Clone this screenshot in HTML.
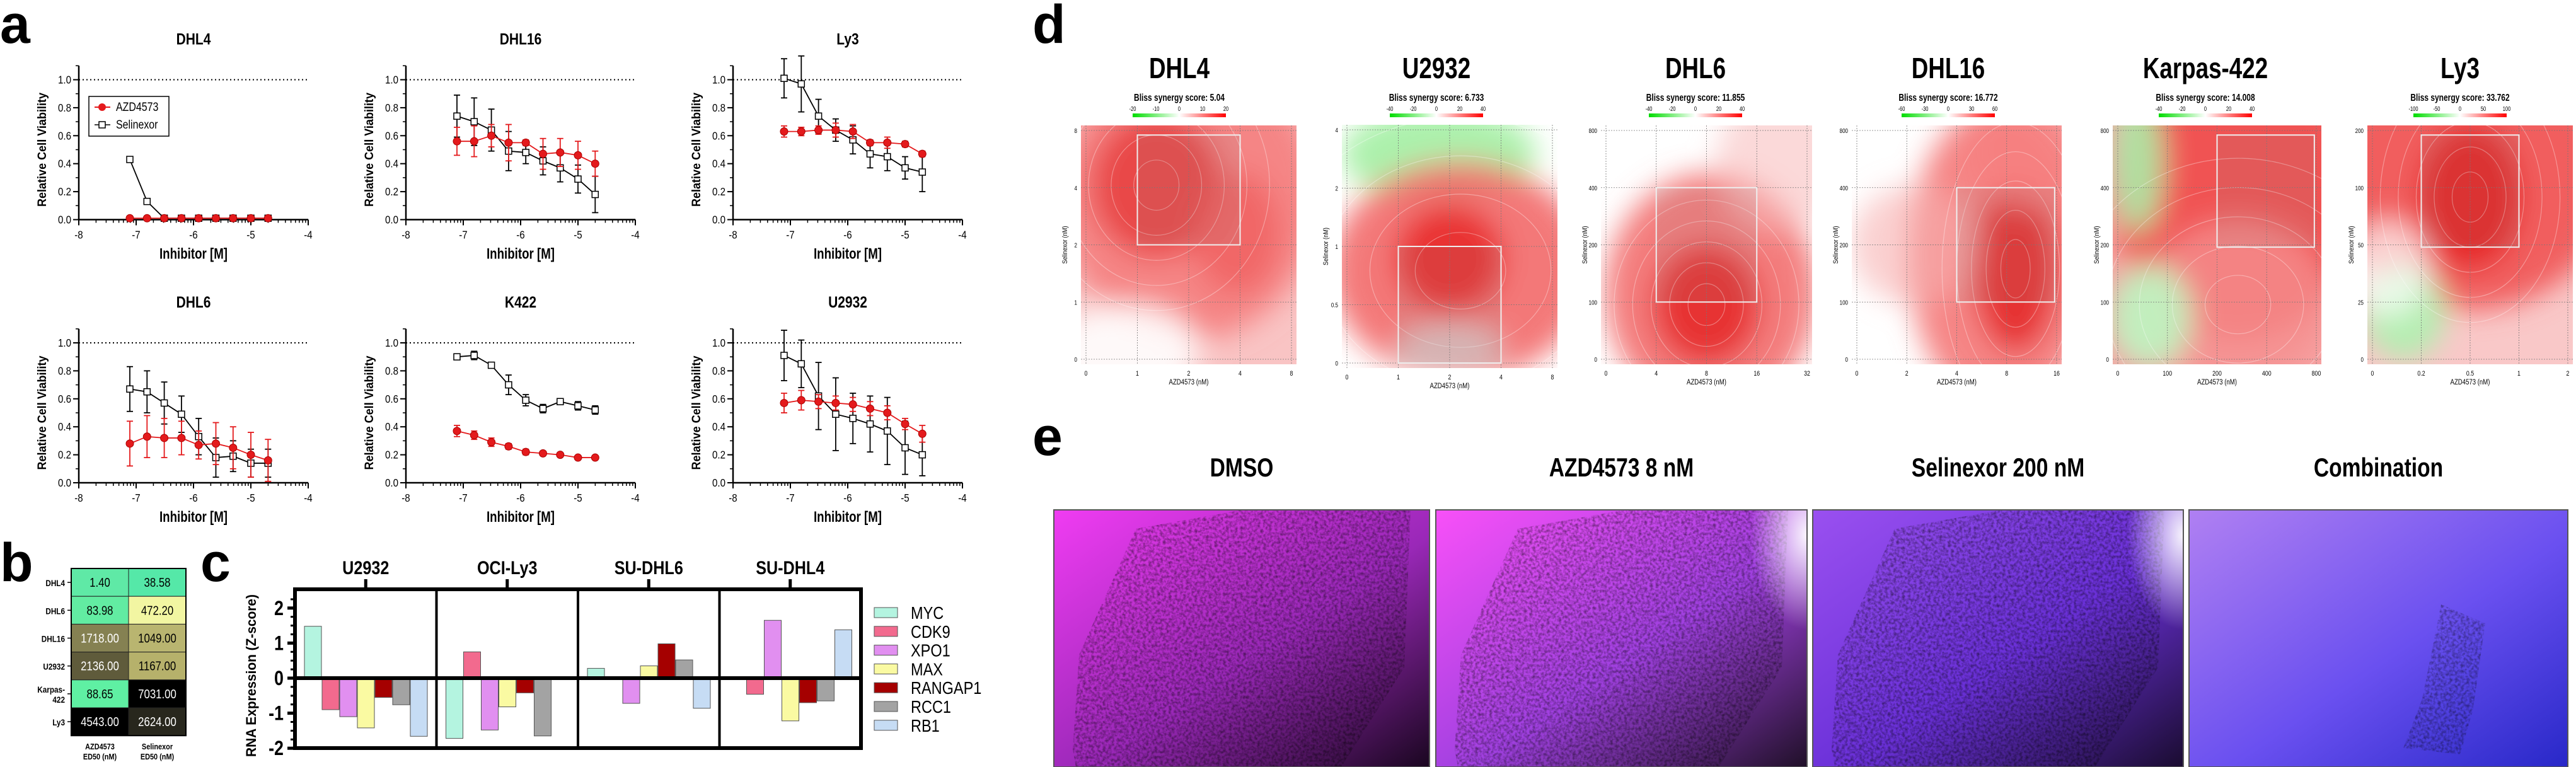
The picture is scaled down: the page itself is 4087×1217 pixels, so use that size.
<!DOCTYPE html>
<html><head><meta charset="utf-8">
<style>
html,body{margin:0;padding:0;background:#fff;}
svg{display:block;}
text{font-family:"Liberation Sans Narrow","Liberation Sans",sans-serif;}
</style></head>
<body>
<svg id="fig" xmlns="http://www.w3.org/2000/svg" width="4087" height="1217" viewBox="0 0 4087 1217">
<defs>
<filter id="cells" x="0" y="0" width="100%" height="100%">
<feTurbulence type="fractalNoise" baseFrequency="0.22" numOctaves="2" seed="3"/>
<feColorMatrix type="matrix" values="0 0 0 0 0  0 0 0 0 0  0 0 0 0 0  0 0 0 -1.8 1.15"/>
</filter>
<filter id="blur20" x="-50%" y="-50%" width="200%" height="200%"><feGaussianBlur stdDeviation="22"/></filter>
</defs>
<g id="root"></g>
</svg>
<script>
// ---------- panel a data ----------
const doseLog = [-7.11,-6.81,-6.51,-6.21,-5.91,-5.61,-5.31,-5.0,-4.7];
const cellLines = ["DHL4","DHL16","Ly3","DHL6","K422","U2932"];
const azdMean = [
 [0.01,0.01,0.01,0.01,0.01,0.01,0.01,0.01,0.01],
 [0.56,0.56,0.60,0.55,0.55,0.47,0.48,0.46,0.40],
 [0.63,0.63,0.64,0.64,0.63,0.55,0.55,0.54,0.47],
 [0.28,0.33,0.32,0.32,0.27,0.28,0.25,0.20,0.16],
 [0.37,0.34,0.29,0.26,0.22,0.21,0.20,0.18,0.18],
 [0.57,0.59,0.58,0.57,0.56,0.53,0.50,0.42,0.35]];
const azdErr = [
 [0.01,0.01,0.01,0.01,0.01,0.01,0.01,0.01,0.01],
 [0.10,0.11,0.08,0.13,0.02,0.11,0.10,0.10,0.09],
 [0.04,0.03,0.03,0.05,0.05,0.02,0.04,0.02,0.02],
 [0.16,0.15,0.14,0.12,0.10,0.15,0.15,0.16,0.15],
 [0.04,0.03,0.03,0.02,0.02,0.01,0.01,0.01,0.01],
 [0.07,0.07,0.05,0.05,0.05,0.05,0.05,0.04,0.06]];
const selMean = [
 [0.43,0.13,0.01,0.01,0.01,0.01,0.01,0.01,0.01],
 [0.74,0.70,0.64,0.49,0.48,0.42,0.37,0.29,0.18],
 [1.01,0.97,0.74,0.64,0.57,0.47,0.45,0.37,0.34],
 [0.67,0.65,0.57,0.49,0.33,0.18,0.19,0.14,0.14],
 [0.90,0.91,0.84,0.70,0.59,0.53,0.58,0.55,0.52],
 [0.91,0.85,0.62,0.49,0.46,0.42,0.37,0.25,0.20]];
const selErr = [
 [0.01,0.01,0.01,0.01,0.01,0.01,0.01,0.01,0.01],
 [0.15,0.17,0.15,0.14,0.08,0.10,0.10,0.10,0.13],
 [0.14,0.20,0.12,0.08,0.10,0.10,0.10,0.08,0.14],
 [0.16,0.15,0.15,0.13,0.13,0.14,0.11,0.10,0.10],
 [0.01,0.03,0.02,0.07,0.04,0.03,0.01,0.03,0.03],
 [0.18,0.17,0.24,0.26,0.18,0.20,0.24,0.19,0.15]];
const xTicks = [-8,-7,-6,-5,-4];
const yTicks = [0,0.2,0.4,0.6,0.8,1.0];

// ---------- panel b data ----------
const tblRows = ["DHL4","DHL6","DHL16","U2932","Karpas-\n422","Ly3"];
const azdED50 = ["1.40","83.98","1718.00","2136.00","88.65","4543.00"];
const selED50 = ["38.58","472.20","1049.00","1167.00","7031.00","2624.00"];
const azdColors = ["#5fe9a6","#62eca2","#858152","#5f5b3b","#5ff0a3","#000000"];
const selColors = ["#55e8a8","#f2f6a2","#b9b570","#b6b16b","#000000","#28271d"];

// ---------- panel c data ----------
const groups = ["U2932","OCI-Ly3","SU-DHL6","SU-DHL4"];
const genes = ["MYC","CDK9","XPO1","MAX","RANGAP1","RCC1","RB1"];
const geneColors = ["#b4f4e0","#f26a8e","#e18ff0","#fafaa2","#a50000","#a3a3a3","#c6dcf4"];
const zU2932 = [1.48,-0.90,-1.10,-1.42,-0.55,-0.76,-1.66];
const zLy3   = [-1.72,0.75,-1.48,-0.82,-0.42,-1.65,0];
const zDHL6  = [0.28,0,-0.72,0.35,0.98,0.52,-0.86];
const zDHL4  = [0,-0.46,1.65,-1.22,-0.70,-0.65,1.38];
const cTicks = [-2,-1,0,1,2];

// ---------- panel d data ----------
const synNames = ["DHL4","U2932","DHL6","DHL16","Karpas-422","Ly3"];
const synScores = ["5.04","6.733","11.855","16.772","14.008","33.762"];
const cbarTicks = [["-20","-10","0","10","20"],["-40","-20","0","20","40"],["-40","-20","0","20","40"],["-60","-30","0","30","60"],["-40","-20","0","20","40"],["-100","-50","0","50","100"]];
const synX = [["0","1","2","4","8"],["0","1","2","4","8"],["0","4","8","16","32"],["0","2","4","8","16"],["0","100","200","400","800"],["0","0.2","0.5","1","2"]];
const synY = [["0","1","2","4","8"],["0","0.5","1","2","4"],["0","100","200","400","800"],["0","100","200","400","800"],["0","100","200","400","800"],["0","25","50","100","200"]];

const NS="http://www.w3.org/2000/svg";
const root=document.getElementById('root');
function el(tag,attrs,parent,t){const e=document.createElementNS(NS,tag);for(const k in attrs)e.setAttribute(k,attrs[k]);if(t!==undefined)e.textContent=t;(parent||root).appendChild(e);return e;}
function txt(x,y,s,size,opts,parent){opts=opts||{};const sx=opts.sx||0.84;
 const base=opts.tf||`translate(${x},${y})`;
 const a={x:0,y:0,'font-size':size,'text-anchor':opts.anchor||'middle',fill:opts.fill||'#000',transform:base+` scale(${sx},1)`};
 if(opts.bold)a['font-weight']='bold';if(opts.family)a['font-family']=opts.family;return el('text',a,parent,s);}

[["a",0,68],["b",0,922],["c",318,922],["d",1638,68],["e",1638,722]].forEach(p=>{
 const t=txt(p[1],p[2],p[0],86,{anchor:'start',bold:true,sx:1,family:'"Liberation Sans",sans-serif'});
 
 
});

// ---------- panel a ----------
const colLeft=[125,644,1163], rowY0=[348.5,766], rowY1=[126.5,544], plotW=364;
cellLines.forEach((name,i)=>{
 const c=i%3,r=Math.floor(i/3);
 const g=el('g',{});
 
 
 const L=colLeft[c],y0=rowY0[r],y1=rowY1[r];
 const X=v=>L+(v+8)/4*plotW, Y=v=>y0-(y0-y1)*v;
 txt(L+182,y1-56,name,25,{bold:true},g);
 el('line',{x1:L,x2:X(-4),y1:Y(1),y2:Y(1),stroke:'#000','stroke-width':2,'stroke-dasharray':'2,4'},g);
 el('line',{x1:L,x2:L,y1:Y(1.1),y2:y0,stroke:'#000','stroke-width':2.5},g);
 el('line',{x1:L,x2:X(-4),y1:y0,y2:y0,stroke:'#000','stroke-width':2.5},g);
 yTicks.forEach(t=>{el('line',{x1:L-9,x2:L,y1:Y(t),y2:Y(t),stroke:'#000','stroke-width':2},g);txt(L-12,Y(t)+6,t.toFixed(1),18,{anchor:'end'},g);});
 for(let t=0.1;t<1.1;t+=0.2)el('line',{x1:L-5,x2:L,y1:Y(t),y2:Y(t),stroke:'#000','stroke-width':1.5},g);
 xTicks.forEach(t=>{el('line',{x1:X(t),x2:X(t),y1:y0,y2:y0+9,stroke:'#000','stroke-width':2},g);txt(X(t),y0+30,String(t),18,{},g);});
 for(let d=-8;d<-4;d++)for(let k=2;k<10;k++){const xx=X(d+Math.log10(k));el('line',{x1:xx,x2:xx,y1:y0,y2:y0+5,stroke:'#000','stroke-width':1.5},g);}
 txt(L+182,y0+62,'Inhibitor [M]',24,{bold:true,sx:0.78},g);
 txt(0,0,'Relative Cell Viability',19,{bold:true,sx:0.95,family:'"Liberation Sans",sans-serif',tf:`translate(${L-52},${Y(0.5)}) rotate(-90)`},g);
 [[selMean[i],selErr[i],'#000','sel'],[azdMean[i],azdErr[i],'#e41a1c','azd']].forEach(s=>{
  const pts=doseLog.map((d,j)=>X(d)+','+Y(s[0][j])).join(' ');
  const ln=el('polyline',{points:pts,fill:'none',stroke:s[2],'stroke-width':1.8},g);
  
  
  doseLog.forEach((d,j)=>{
   const x=X(d),m=s[0][j],e=s[1][j];
   el('line',{x1:x,x2:x,y1:Y(m-e),y2:Y(m+e),stroke:s[2],'stroke-width':1.8},g);
   el('line',{x1:x-5,x2:x+5,y1:Y(m-e),y2:Y(m-e),stroke:s[2],'stroke-width':1.8},g);
   el('line',{x1:x-5,x2:x+5,y1:Y(m+e),y2:Y(m+e),stroke:s[2],'stroke-width':1.8},g);
   let mk;
   if(s[3]==='sel')mk=el('rect',{x:x-5,y:Y(m)-5,width:10,height:10,fill:'#fff',stroke:'#000','stroke-width':1.5},g);
   else mk=el('circle',{cx:x,cy:Y(m),r:6,fill:'#e41a1c',stroke:'#a00','stroke-width':1},g);
   
   
  });
 });
 if(i===0){
  const lg=el('g',{},g);
  
  
  el('rect',{x:141,y:153,width:127,height:63,fill:'#fff',stroke:'#000','stroke-width':1.5},lg);
  el('line',{x1:150,x2:175,y1:170,y2:170,stroke:'#e41a1c','stroke-width':2},lg);
  el('circle',{cx:162,cy:170,r:6,fill:'#e41a1c'},lg);
  txt(184,176,'AZD4573',19,{anchor:'start'},lg);
  el('line',{x1:150,x2:175,y1:198,y2:198,stroke:'#000','stroke-width':1.5},lg);
  el('rect',{x:157,y:193,width:10,height:10,fill:'#fff',stroke:'#000','stroke-width':1.5},lg);
  txt(184,204,'Selinexor',19,{anchor:'start'},lg);
 }
});

// ---------- panel b ----------
(function(){
 const g=el('g',{});
 
 
 const L=113,T=902,cw=91,rh=44.2;
 tblRows.forEach((r,i)=>{
  [[azdED50,azdColors],[selED50,selColors]].forEach((col,k)=>{
   const cell=el('rect',{x:L+k*cw,y:T+i*rh,width:cw,height:rh,fill:col[1][i],stroke:'#222','stroke-width':1},g);
   
   
   const dark=['#000000','#28271d','#5f5b3b','#858152'].includes(col[1][i]);
   txt(L+k*cw+cw/2,T+i*rh+rh/2+7,col[0][i],20,{fill:dark?'#fff':'#000'},g);
  });
  const lines=r.split('\n');
  lines.forEach((ln,j)=>txt(L-10,T+i*rh+rh/2+6+(j-(lines.length-1)/2)*16,ln,14,{anchor:'end',bold:true},g));
  el('line',{x1:L-6,x2:L,y1:T+i*rh+rh/2,y2:T+i*rh+rh/2,stroke:'#000','stroke-width':1.5},g);
 });
 el('rect',{x:L,y:T,width:2*cw,height:6*rh,fill:'none',stroke:'#000','stroke-width':2},g);
 txt(L+cw/2,T+6*rh+22,'AZD4573',13,{bold:true},g);txt(L+cw/2,T+6*rh+38,'ED50 (nM)',13,{bold:true},g);
 txt(L+cw*1.5,T+6*rh+22,'Selinexor',13,{bold:true},g);txt(L+cw*1.5,T+6*rh+38,'ED50 (nM)',13,{bold:true},g);
})();

// ---------- panel c ----------
(function(){
 const g=el('g',{});
 
 
 const L=468,R=1366,T=935,B=1187,Z=1076,unit=55.6,gw=(R-L)/4,bw=28,pad=15;
 const Y=v=>Z-v*unit;
 const series=[zU2932,zLy3,zDHL6,zDHL4];
 series.forEach((vals,gi)=>{
  vals.forEach((v,bi)=>{
   if(v===0)return;
   const x=L+gi*gw+pad+bi*bw;
   const b=el('rect',{x:x,y:Math.min(Y(v),Z),width:bw-1,height:Math.abs(Y(v)-Z),fill:geneColors[bi],stroke:'#555','stroke-width':1},g);
   
   
  });
  const cx=L+gi*gw+gw/2;
  txt(cx,T-24,groups[gi],30,{bold:true},g);
  el('line',{x1:cx,x2:cx,y1:T-16,y2:T,stroke:'#000','stroke-width':5},g);
  if(gi>0)el('line',{x1:L+gi*gw,x2:L+gi*gw,y1:T,y2:B,stroke:'#000','stroke-width':4},g);
 });
 el('line',{x1:L,x2:R,y1:Z,y2:Z,stroke:'#000','stroke-width':6},g);
 el('rect',{x:L,y:T,width:R-L,height:B-T,fill:'none',stroke:'#000','stroke-width':6},g);
 cTicks.forEach(t=>{el('line',{x1:L-12,x2:L,y1:Y(t),y2:Y(t),stroke:'#000','stroke-width':5},g);txt(L-18,Y(t)+11,String(t),32,{anchor:'end',bold:true},g);});
 for(let t=-1.75;t<2.3;t+=0.25){if(Math.abs(t-Math.round(t))<0.01)continue;el('line',{x1:L-7,x2:L,y1:Y(t),y2:Y(t),stroke:'#000','stroke-width':3},g);}
 txt(0,0,'RNA Expression (Z-score)',22,{bold:true,sx:0.95,family:'"Liberation Sans",sans-serif',tf:`translate(406,${Y(0)-4}) rotate(-90)`},g);
 genes.forEach((gn,i)=>{
  const y=972+i*29.8;
  const sw=el('rect',{x:1387,y:y-8,width:37,height:16,fill:geneColors[i],stroke:'#555','stroke-width':1},g);
  
  
  txt(1445,y+10,gn,28,{anchor:'start'},g);
 });
})();

// ---------- panel d ----------
const synPlots=[[1715,2057,199,578],[2129,2471,198,584],[2540,2875,199,578],[2938,3271,199,578],[3352,3683,199,578],[3756,4082,199,578]];
const synTitleX=[1871,2279,2690,3091,3499,3903];
const bases=['#f9c4c4','#ffffff','#ffffff','#ffffff','#f6a4a4','#f9c8c8'];
const blobs=[
 [[0.5,0.3,0.6,0.6,'#f57a7a',0.85],[0.35,0.25,0.3,0.3,'#e84040',0.85],[0.72,0.45,0.2,0.25,'#f05a5a',0.7],[0.2,0.95,0.35,0.2,'#ffffff',0.9]],
 [[0.45,0.12,0.45,0.2,'#a8f0a8',0.95],[0.55,0.6,0.6,0.45,'#f26a6a',0.9],[0.5,0.55,0.25,0.22,'#e82c2c',0.9],[0.5,0.92,0.25,0.1,'#d8d8d8',0.7]],
 [[0.52,0.7,0.5,0.5,'#f26e6e',0.9],[0.5,0.75,0.25,0.25,'#e52a2a',0.9],[0.85,0.15,0.3,0.3,'#f8c0c0',0.6]],
 [[0.72,0.55,0.45,0.65,'#f47878',0.9],[0.78,0.6,0.2,0.35,'#e42a2a',0.9],[0.85,0.1,0.3,0.25,'#f68080',0.8],[0.3,0.5,0.3,0.25,'#f7b0b0',0.6]],
 [[0.6,0.3,0.6,0.6,'#f05050',0.95],[0.6,0.75,0.45,0.35,'#f59090',0.8],[0.12,0.15,0.12,0.3,'#a8f0a8',0.9],[0.18,0.8,0.2,0.22,'#c0f2c0',0.95]],
 [[0.5,0.22,0.7,0.55,'#f05a5a',0.95],[0.5,0.3,0.25,0.3,'#e42424',0.9],[0.18,0.78,0.2,0.2,'#b0f0b0',0.95],[0.1,0.6,0.2,0.2,'#ffffff',0.7]]];
const boxes=[[0.25,0.75,0.02,0.5],[0.25,0.75,0.5,1],[0.25,0.75,0.25,0.75],[0.5,0.99,0.25,0.75],[0.5,0.99,0.02,0.51],[0.25,0.75,0.02,0.51]];
synNames.forEach((nm,i)=>{
 const [L,R,T,B]=synPlots[i],W=R-L,H=B-T;
 const g=el('g',{});
 
 
 txt(synTitleX[i],124,nm,46,{bold:true,sx:0.8},g);
 txt(synTitleX[i],160,'Bliss synergy score: '+synScores[i],16,{bold:true,sx:0.75},g);
 const cbL=synTitleX[i]-74,cbW=148;
 const gid='cb'+i;
 const lg=el('linearGradient',{id:gid},g);
 el('stop',{offset:'0','stop-color':'#00dd00'},lg);el('stop',{offset:'0.5','stop-color':'#ffffff'},lg);el('stop',{offset:'1','stop-color':'#ff0000'},lg);
 const cb=el('rect',{x:cbL,y:180,width:cbW,height:6,fill:`url(#${gid})`},g);
 
 
 cbarTicks[i].forEach((t,k)=>txt(cbL+k*cbW/4,176,t,10,{sx:0.75},g));
 const cp=el('clipPath',{id:'cp'+i},g);el('rect',{x:L,y:T,width:W,height:H},cp);
 const hg=el('g',{'clip-path':`url(#cp${i})`},g);
 el('rect',{x:L,y:T,width:W,height:H,fill:bases[i]},hg);
 const bg=el('g',{filter:'url(#blur20)'},hg);
 blobs[i].forEach(b=>el('ellipse',{cx:L+b[0]*W,cy:T+b[1]*H,rx:b[2]*W,ry:b[3]*H,fill:b[4],opacity:b[5]},bg));
 const cc=blobs[i][1];
 for(let k=1;k<6;k++)el('ellipse',{cx:L+cc[0]*W,cy:T+cc[1]*H,rx:cc[2]*W*k*0.35,ry:cc[3]*H*k*0.35,fill:'none',stroke:'#fff','stroke-opacity':0.35,'stroke-width':1.2},hg);
 for(let k=0;k<5;k++){const x=L+8+k*(W-16)/4,y=B-8-k*(H-16)/4;
  el('line',{x1:x,x2:x,y1:T,y2:B,stroke:'#777','stroke-width':0.8,'stroke-dasharray':'2,2'},g);
  el('line',{x1:L,x2:R,y1:y,y2:y,stroke:'#777','stroke-width':0.8,'stroke-dasharray':'2,2'},g);
  txt(x,B+18,synX[i][k],11,{sx:0.8},g);txt(L-6,y+4,synY[i][k],10,{anchor:'end',sx:0.8},g);}
 const bx=boxes[i];
 const bxr=el('rect',{x:L+8+bx[0]*(W-16),y:T+8+bx[2]*(H-16),width:(bx[1]-bx[0])*(W-16),height:(bx[3]-bx[2])*(H-16),fill:'#888','fill-opacity':0.12,stroke:'#eee','stroke-width':2},g);
 
 
 txt(L+W/2,B+32,'AZD4573 (nM)',12,{sx:0.8},g);
 txt(0,0,'Selinexor (nM)',11,{family:'"Liberation Sans",sans-serif',tf:`translate(${L-22},${T+H/2}) rotate(-90)`},g);
});

// ---------- panel e ----------
const microNames=["DMSO","AZD4573 8 nM","Selinexor 200 nM","Combination"];
const microX=[[1672,2268],[2278,2867],[2876,3464],[3473,4074]];
const microCols=[["#f03cf2","#9a28b8","#1a0620"],["#f850f8","#a040e0","#201028"],["#9a50f0","#6a30d8","#1a0c30"],["#b080f2","#6a50f0","#2828c8"]];
microNames.forEach((nm,i)=>{
 const [L,R]=microX[i],T=809,B=1217;
 const g=el('g',{});
 
 
 txt((L+R)/2,756,nm,42,{bold:true,sx:0.8},g);
 const lg=el('linearGradient',{id:'mg'+i,x1:'0',y1:'0',x2:'1',y2:'1'},g);
 el('stop',{offset:'0','stop-color':microCols[i][0]},lg);el('stop',{offset:'0.55','stop-color':microCols[i][1]},lg);el('stop',{offset:'1','stop-color':microCols[i][2]},lg);
 el('rect',{x:L,y:T,width:R-L,height:B-T,fill:`url(#mg${i})`},g);
 const cp=el('clipPath',{id:'mc'+i},g);
 if(i<3){
  el('polygon',{points:`${L+30},${T+380} ${L+40},${T+230} ${L+130},${T+30} ${L+300},${T} ${R-30},${T} ${R-40},${T+250} ${R-140},${B} ${L+35},${B}`},cp);
  el('rect',{x:L,y:T,width:R-L,height:B-T,fill:'#1a0a30',opacity:0.5,filter:'url(#cells)','clip-path':`url(#mc${i})`},g);
 } else {
  el('polygon',{points:`${L+400},${T+150} ${L+470},${T+180} ${L+450},${T+320} ${L+430},${B-20} ${L+340},${B-30} ${L+370},${T+300}`},cp);
  el('rect',{x:L,y:T,width:R-L,height:B-T,fill:'#101060',opacity:0.45,filter:'url(#cells)','clip-path':`url(#mc${i})`},g);
 }
 if(i===1||i===2){const rg=el('radialGradient',{id:'wg'+i},g);el('stop',{offset:'0','stop-color':'#fff','stop-opacity':0.95},rg);el('stop',{offset:'1','stop-color':'#fff','stop-opacity':0},rg);
  el('ellipse',{cx:R,cy:T+40,rx:90,ry:150,fill:`url(#wg${i})`},g);}
 el('rect',{x:L,y:T,width:R-L,height:B-T,fill:'none',stroke:'#555','stroke-width':2},g);
});
</script>
</body></html>
